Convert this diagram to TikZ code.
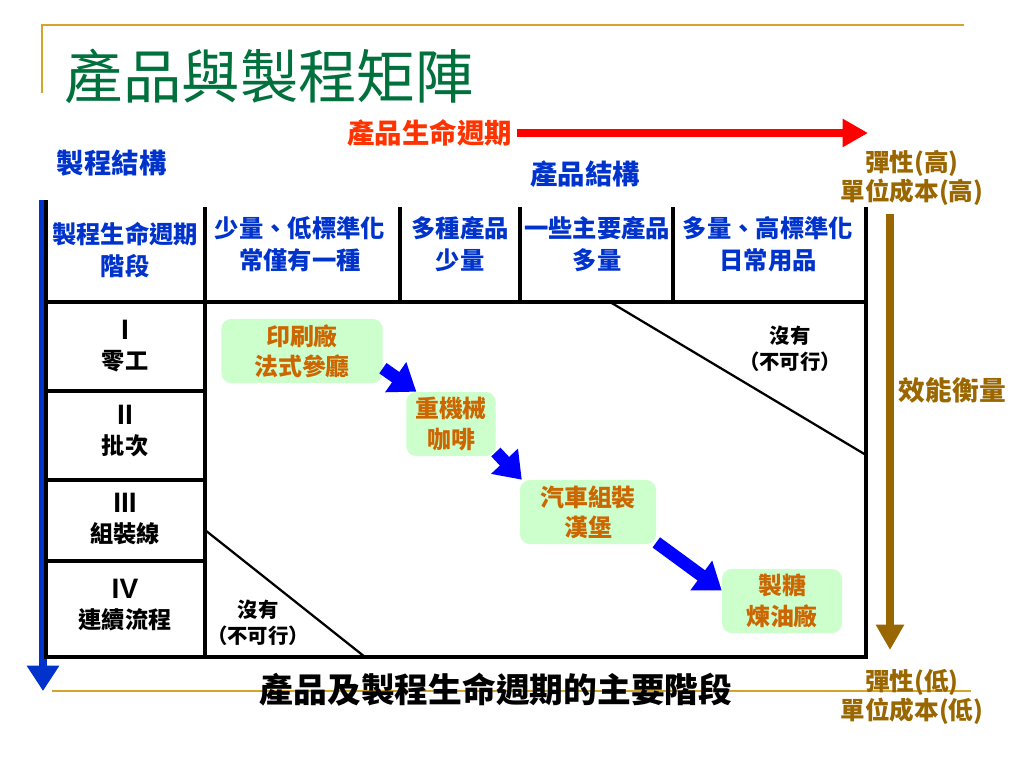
\documentclass[tikz,border=0pt]{standalone}
\usepackage{fontspec}
\setmainfont{Noto Sans CJK TC}
\newfontfamily\romanfont{Liberation Sans}
\usetikzlibrary{arrows.meta}
\definecolor{titlegreen}{HTML}{00703C}
\definecolor{headblue}{HTML}{0033CC}
\definecolor{lifered}{HTML}{FF3300}
\definecolor{gold}{HTML}{996600}
\definecolor{rulegold}{HTML}{D4A52A}
\definecolor{boxgreen}{HTML}{CCFFCC}
\definecolor{caseorange}{HTML}{CC6600}
\tikzset{
	head text/.style={font=\fontsize{17.3}{22.5}\selectfont\bfseries,text=headblue,align=center},
	stage text/.style={font=\fontsize{16.5}{21}\selectfont\bfseries,align=center},
	gold text/.style={font=\fontsize{17.5}{21}\selectfont\bfseries,text=gold,align=center},
	none text/.style={font=\fontsize{14.5}{18.5}\selectfont\bfseries,align=center},
	case box/.style={rectangle,rounded corners=7pt,fill=boxgreen,text=caseorange,
		font=\fontsize{17}{21.5}\selectfont\bfseries,align=center,minimum height=1.6cm},
	grid line/.style={line width=2.2pt},
	flow arrow/.style={line width=9pt,draw=blue,-{Triangle[length=18pt,width=25pt]}}
}

\begin{document}
\begin{tikzpicture}[x=0.025cm,y=-0.025cm]
  \useasboundingbox (0,0) rectangle (1024,768);
  % frame lines
  \draw[rulegold,line width=1.6pt] (42,93) -- (42,25) -- (964,25);
  \draw[rulegold,line width=1.6pt] (52,691) -- (971,691);
  \node[font=\fontsize{41.5}{46}\selectfont,text=titlegreen,anchor=west] (title) at (60,76) {產品與製程矩陣};
  % axes
  \node[font=\fontsize{19.5}{23}\selectfont\bfseries,text=lifered,anchor=east] (life) at (517,133) {產品生命週期};
  \coordinate (lifeend) at (868,133);
  \draw[red,line width=5.8pt,-{Triangle[length=18pt,width=19pt]}] (life.east) -- (lifeend);
  \node[font=\fontsize{19.5}{23}\selectfont\bfseries,text=headblue,anchor=west] (proc) at (52,163) {製程結構};
  \node[font=\fontsize{19.5}{23}\selectfont\bfseries,text=headblue] (prod) at (585,174) {產品結構};
  \coordinate (proctop) at (43,200);
  \coordinate (procend) at (43,691);
  \draw[headblue,line width=5pt,-{Triangle[length=18pt,width=22pt]}] (proctop) -- (procend);
  \node[gold text] (high) at (912,178) {彈性(高)\\單位成本(高)};
  \node[gold text] (low) at (912,697) {彈性(低)\\單位成本(低)};
  \coordinate (efftop) at (890,214);
  \coordinate (effend) at (890,650);
  \draw[gold,line width=5.2pt,-{Triangle[length=18pt,width=19pt]}] (efftop) -- (effend);
  \node[font=\fontsize{19}{23}\selectfont\bfseries,text=gold,anchor=west] (eff) at (894,390) {效能衡量};
  % table
  \draw[grid line] (46,200) -- (46,657) -- (866,657) -- (866,207);
  \draw[grid line] (205,207) -- (205,657);
  \foreach \x in {400,520,673} \draw[grid line] (\x,207) -- (\x,302);
  \draw[grid line] (46,302) -- (866,302);
  \foreach \y in {391,480,561} \draw[grid line] (46,\y) -- (205,\y);
  \draw[line width=1.6pt] (610,302) -- (866,455);
  \draw[line width=1.6pt] (205,530) -- (365,657);
  % headers
  \node[head text] (h0) at (125,250) {製程生命週期\\階段};
  \node[head text] (h1) at (300,244) {少量、低標準化\\常僅有一種};
  \node[head text] (h2) at (460,244) {多種產品\\少量};
  \node[head text] (h3) at (597,244) {一些主要產品\\多量};
  \node[head text] (h4) at (768,244) {多量、高標準化\\日常用品};
  % stages
  \node[stage text] (s1) at (125,346) {{\romanfont\fontsize{20}{21}\selectfont\bfseries I}\\零工};
  \node[stage text] (s2) at (125,431) {{\romanfont\fontsize{20}{21}\selectfont\bfseries II}\\批次};
  \node[stage text] (s3) at (125,519) {{\romanfont\fontsize{20}{21}\selectfont\bfseries III}\\組裝線};
  \node[stage text] (s4) at (125,605) {{\romanfont\fontsize{20}{21}\selectfont\bfseries IV}\\連續流程};
  \node[none text] (n1) at (790,349) {沒有\\（不可行）};
  \node[none text] (n2) at (258,623) {沒有\\（不可行）};
  % cases
  \node[case box,minimum width=4.03cm] (c1) at (302,351) {印刷廠\\法式參廳};
  \node[case box,minimum width=2.23cm] (c2) at (451,424) {重機械\\咖啡};
  \node[case box,minimum width=3.4cm] (c3) at (588,512) {汽車組裝\\漢堡};
  \node[case box,minimum width=3cm] (c4) at (782,601) {製糖\\煉油廠};
  \draw[flow arrow] (c1.-12) -- (c2.137);
  \draw[flow arrow] (c2.-32) -- (c3.154);
  \draw[flow arrow] (c3.-24) -- (c4.170);
  \node[font=\fontsize{24}{28}\selectfont\bfseries] (caption) at (496,690) {產品及製程生命週期的主要階段};
\end{tikzpicture}
\end{document}
